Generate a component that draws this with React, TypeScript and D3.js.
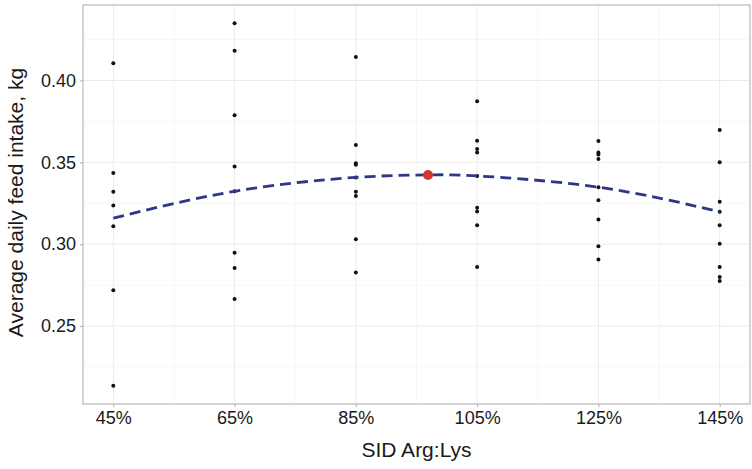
import { useEffect, useRef } from "react";
import * as d3 from "d3";

// SID Arg:Lys levels, %
const doses = [45, 65, 85, 105, 125, 145];
const xTicks = ["45%", "65%", "85%", "105%", "125%", "145%"];
const yTicks = [0.25, 0.3, 0.35, 0.4];

// individual pen observations, kg/d
const adfi45 = [0.4105, 0.3435, 0.332, 0.3236, 0.311, 0.2719, 0.2135];
const adfi65 = [0.435, 0.4181, 0.3788, 0.3475, 0.3323, 0.2948, 0.2855, 0.2666];
const adfi85 = [0.4143, 0.3606, 0.3495, 0.3485, 0.3408, 0.3321, 0.3295, 0.3031, 0.2827];
const adfi105 = [0.3873, 0.3632, 0.3581, 0.356, 0.3417, 0.3222, 0.32, 0.3116, 0.2861];
const adfi125 = [0.363, 0.356, 0.3548, 0.352, 0.3348, 0.3268, 0.3151, 0.2988, 0.2907];
const adfi145 = [0.3697, 0.35, 0.326, 0.3198, 0.3116, 0.3003, 0.2861, 0.28, 0.2775];
const observations = [adfi45, adfi65, adfi85, adfi105, adfi125, adfi145];

// fitted quadratic curve
const fitX = [45, 65, 85, 96.9, 105, 125, 145];
const fitY = [0.3159, 0.3323, 0.3408, 0.3423, 0.3417, 0.3348, 0.3198];
const optimum = { x: 96.9, y: 0.3423 };

export default function App() {
    const svgRef = useRef<SVGSVGElement | null>(null);

    useEffect(() => {
        if (!svgRef.current) return;
        const svg = d3.select(svgRef.current);
        svg.selectAll("*").remove();

        const width = 752;
        const height = 469;
        const margin = { top: 5, right: 2, bottom: 65, left: 83 };
        const font = "'Liberation Sans', Arial, sans-serif";

        const x = d3.scaleLinear().domain([40, 150]).range([margin.left, width - margin.right]);
        const y = d3.scaleLinear().domain([0.2024, 0.4461]).range([height - margin.bottom, margin.top]);

        const top = margin.top;
        const bottom = height - margin.bottom;
        const left = margin.left;
        const right = width - margin.right;

        // minor grid
        const minorX = [55, 75, 95, 115, 135];
        const minorY = [0.225, 0.275, 0.325, 0.375, 0.425];
        svg.append("g").selectAll("line").data(minorX).join("line")
            .attr("x1", (d) => x(d)).attr("x2", (d) => x(d))
            .attr("y1", top).attr("y2", bottom)
            .attr("stroke", "#f3f3f3").attr("stroke-width", 0.7);
        svg.append("g").selectAll("line").data(minorY).join("line")
            .attr("x1", left).attr("x2", right)
            .attr("y1", (d) => y(d)).attr("y2", (d) => y(d))
            .attr("stroke", "#f3f3f3").attr("stroke-width", 0.7);

        // major grid
        svg.append("g").selectAll("line").data(doses).join("line")
            .attr("x1", (d) => x(d)).attr("x2", (d) => x(d))
            .attr("y1", top).attr("y2", bottom)
            .attr("stroke", "#ebebeb").attr("stroke-width", 1);
        svg.append("g").selectAll("line").data(yTicks).join("line")
            .attr("x1", left).attr("x2", right)
            .attr("y1", (d) => y(d)).attr("y2", (d) => y(d))
            .attr("stroke", "#ebebeb").attr("stroke-width", 1);

        // points
        doses.forEach((dose, i) => {
            svg.append("g").selectAll("circle").data(observations[i]).join("circle")
                .attr("cx", x(dose))
                .attr("cy", (d) => y(d))
                .attr("r", 2)
                .attr("fill", "#111");
        });

        // fitted curve
        const line = d3.line<number>()
            .x((_, i) => x(fitX[i]))
            .y((d) => y(d))
            .curve(d3.curveNatural);
        svg.append("path")
            .datum(fitY)
            .attr("fill", "none")
            .attr("stroke", "#2e3688")
            .attr("stroke-width", 2.8)
            .attr("stroke-dasharray", "11,6")
            .attr("d", line);

        svg.append("circle")
            .attr("cx", x(optimum.x))
            .attr("cy", y(optimum.y))
            .attr("r", 5)
            .attr("fill", "#d9342b");

        // panel border
        svg.append("rect")
            .attr("x", left).attr("y", top)
            .attr("width", right - left).attr("height", bottom - top)
            .attr("fill", "none")
            .attr("stroke", "#c2c2c2")
            .attr("stroke-width", 1.4);

        // x axis
        const xAxis = svg.append("g")
            .attr("transform", `translate(0,${bottom})`)
            .call(d3.axisBottom(x).tickValues(doses).tickSize(3).tickPadding(4)
                .tickFormat((_, i) => xTicks[i]));
        xAxis.select(".domain").remove();
        xAxis.selectAll(".tick line").attr("stroke", "#b5b5b5").attr("stroke-width", 1.2);
        xAxis.selectAll(".tick text").attr("font-family", font).attr("font-size", 18).attr("fill", "#1a1a1a");

        // y axis
        const yAxis = svg.append("g")
            .attr("transform", `translate(${left},0)`)
            .call(d3.axisLeft(y).tickValues(yTicks).tickSize(3).tickPadding(4)
                .tickFormat(d3.format(".2f")));
        yAxis.select(".domain").remove();
        yAxis.selectAll(".tick line").attr("stroke", "#b5b5b5").attr("stroke-width", 1.2);
        yAxis.selectAll(".tick text").attr("font-family", font).attr("font-size", 18).attr("fill", "#1a1a1a");

        // titles
        svg.append("text")
            .attr("x", (left + right) / 2)
            .attr("y", 457)
            .attr("text-anchor", "middle")
            .attr("font-family", font)
            .attr("font-size", 21)
            .attr("fill", "#1a1a1a")
            .text("SID Arg:Lys");

        svg.append("text")
            .attr("transform", `translate(23,${(top + bottom) / 2 - 2}) rotate(-90)`)
            .attr("text-anchor", "middle")
            .attr("font-family", font)
            .attr("font-size", 21)
            .attr("fill", "#1a1a1a")
            .text("Average daily feed intake, kg");
    }, []);

    return (
        <svg
            ref={svgRef}
            width={752}
            height={469}
            style={{ position: "absolute", left: 0, top: 0, background: "#fff" }}
        ></svg>
    );
}
